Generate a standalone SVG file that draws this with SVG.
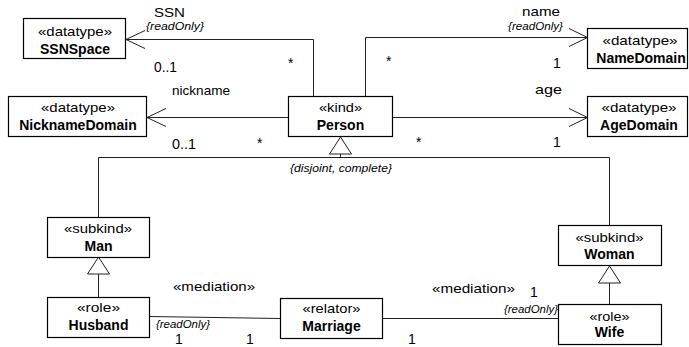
<svg xmlns="http://www.w3.org/2000/svg" width="689" height="347" viewBox="0 0 689 347">
  <style>
    .box{fill:#fff;stroke:#000;stroke-width:1.2}
    .st{font-family:"Liberation Sans",Arial,sans-serif;font-size:13px;text-anchor:middle;fill:#000}
    .nm{font-family:"Liberation Sans",Arial,sans-serif;font-size:14px;font-weight:bold;text-anchor:middle;fill:#000}
    .lbl{font-family:"Liberation Sans",Arial,sans-serif;font-size:13px;fill:#000}
    .mul{font-family:"Liberation Sans",Arial,sans-serif;font-size:14px;fill:#000}
    .ro{font-family:"Liberation Sans",Arial,sans-serif;font-size:10px;font-style:italic;fill:#000}
    .ln{fill:none;stroke:#222;stroke-width:1}
    .gen{fill:#fff;stroke:#222;stroke-width:1}
  </style>
  <rect width="689" height="347" fill="#fff"/>

  <!-- connectors -->
  <g id="connectors">
    <!-- Person -> SSNSpace (SSN) -->
    <polyline class="ln" points="313.5,96.5 313.5,39.5 126,39.5"/>
    <polyline class="ln" points="145,30.5 126,39.5 145,48.5"/>
    <!-- Person -> NicknameDomain -->
    <line class="ln" x1="288.5" y1="117.5" x2="147" y2="117.5"/>
    <polyline class="ln" points="166,108.5 147,117.5 166,126.5"/>
    <!-- Person -> NameDomain -->
    <polyline class="ln" points="365.5,96.5 365.5,37.5 587.5,37.5"/>
    <polyline class="ln" points="569,28.5 587.5,37.5 569,46.5"/>
    <!-- Person -> AgeDomain -->
    <line class="ln" x1="392.5" y1="117.5" x2="587.5" y2="117.5"/>
    <polyline class="ln" points="569,108.5 587.5,117.5 569,126.5"/>
    <!-- generalization set Person <- Man, Woman -->
    <polyline class="ln" points="98.5,217 98.5,157.5 609.5,157.5 609.5,225"/>
    <line class="ln" x1="340.5" y1="154" x2="340.5" y2="157.5"/>
    <polygon class="gen" points="340.5,137 329.5,154 351.5,154"/>
    <!-- Man <- Husband -->
    <line class="ln" x1="98.5" y1="274" x2="98.5" y2="297"/>
    <polygon class="gen" points="98.5,257 87.5,274 109.5,274"/>
    <!-- Woman <- Wife -->
    <line class="ln" x1="609.5" y1="283" x2="609.5" y2="304"/>
    <polygon class="gen" points="609.5,266 598.5,283 620.5,283"/>
    <!-- mediations -->
    <line class="ln" x1="150" y1="316.5" x2="280" y2="318.5"/>
    <line class="ln" x1="383" y1="318.5" x2="558" y2="318.5"/>

    <!-- association labels -->
    <text class="lbl" x="154" y="17" textLength="31" lengthAdjust="spacingAndGlyphs">SSN</text>
    <text class="ro" x="146" y="30" textLength="58" lengthAdjust="spacingAndGlyphs">{readOnly}</text>
    <text class="mul" x="154" y="72" textLength="23" lengthAdjust="spacingAndGlyphs">0..1</text>
    <text class="mul" x="288" y="67.5">*</text>

    <text class="lbl" x="172" y="95" textLength="58" lengthAdjust="spacingAndGlyphs">nickname</text>
    <text class="mul" x="172" y="149" textLength="24" lengthAdjust="spacingAndGlyphs">0..1</text>
    <text class="mul" x="257" y="147.5">*</text>

    <text class="lbl" x="522" y="16" textLength="38" lengthAdjust="spacingAndGlyphs">name</text>
    <text class="ro" x="508" y="30" textLength="55" lengthAdjust="spacingAndGlyphs">{readOnly}</text>
    <text class="mul" x="386" y="66">*</text>
    <text class="mul" x="553" y="68">1</text>

    <text class="lbl" x="535" y="94" textLength="27" lengthAdjust="spacingAndGlyphs">age</text>
    <text class="mul" x="416" y="146.5">*</text>
    <text class="mul" x="553" y="146.5">1</text>

    <text class="ro" x="341" y="172" text-anchor="middle" textLength="102" lengthAdjust="spacingAndGlyphs">{disjoint, complete}</text>

    <text class="lbl" x="173" y="291" textLength="82" lengthAdjust="spacingAndGlyphs">«mediation»</text>
    <text class="ro" x="156" y="328" textLength="54" lengthAdjust="spacingAndGlyphs">{readOnly}</text>
    <text class="mul" x="175" y="343.5">1</text>
    <text class="mul" x="246" y="343.5">1</text>

    <text class="lbl" x="432" y="293" textLength="83" lengthAdjust="spacingAndGlyphs">«mediation»</text>
    <text class="mul" x="530" y="296.5">1</text>
    <text class="ro" x="504" y="313" textLength="54" lengthAdjust="spacingAndGlyphs">{readOnly}</text>
    <text class="mul" x="408" y="343.5">1</text>
  </g>

  <!-- classes -->
  <g id="SSNSpace">
    <rect class="box" x="23.5" y="18.5" width="102" height="40"/>
    <text class="st" x="75" y="36" textLength="74" lengthAdjust="spacingAndGlyphs">«datatype»</text>
    <text class="nm" x="75" y="53.5">SSNSpace</text>
  </g>
  <g id="NicknameDomain">
    <rect class="box" x="8.5" y="96.5" width="138" height="40"/>
    <text class="st" x="78" y="112" textLength="74" lengthAdjust="spacingAndGlyphs">«datatype»</text>
    <text class="nm" x="78" y="130">NicknameDomain</text>
  </g>
  <g id="Person">
    <rect class="box" x="288.5" y="96.5" width="104" height="40"/>
    <text class="st" x="340.5" y="112" textLength="43" lengthAdjust="spacingAndGlyphs">«kind»</text>
    <text class="nm" x="340.5" y="130">Person</text>
  </g>
  <g id="NameDomain">
    <rect class="box" x="587.5" y="28.5" width="100" height="40"/>
    <text class="st" x="640" y="45" textLength="75" lengthAdjust="spacingAndGlyphs">«datatype»</text>
    <text class="nm" x="641" y="63">NameDomain</text>
  </g>
  <g id="AgeDomain">
    <rect class="box" x="587.5" y="96.5" width="100" height="40"/>
    <text class="st" x="639" y="112" textLength="75" lengthAdjust="spacingAndGlyphs">«datatype»</text>
    <text class="nm" x="639" y="130">AgeDomain</text>
  </g>
  <g id="Man">
    <rect class="box" x="47.5" y="217.5" width="102" height="40"/>
    <text class="st" x="98" y="233" textLength="68" lengthAdjust="spacingAndGlyphs">«subkind»</text>
    <text class="nm" x="98.5" y="251">Man</text>
  </g>
  <g id="Husband">
    <rect class="box" x="47.5" y="297.5" width="102" height="40"/>
    <text class="st" x="98.5" y="312" textLength="43" lengthAdjust="spacingAndGlyphs">«role»</text>
    <text class="nm" x="98.5" y="330">Husband</text>
  </g>
  <g id="Marriage">
    <rect class="box" x="280.5" y="298.5" width="102" height="40"/>
    <text class="st" x="331.5" y="313" textLength="58" lengthAdjust="spacingAndGlyphs">«relator»</text>
    <text class="nm" x="331.5" y="331">Marriage</text>
  </g>
  <g id="Woman">
    <rect class="box" x="558.5" y="225.5" width="103" height="40"/>
    <text class="st" x="609.5" y="241.5" textLength="68" lengthAdjust="spacingAndGlyphs">«subkind»</text>
    <text class="nm" x="609.5" y="259">Woman</text>
  </g>
  <g id="Wife">
    <rect class="box" x="558.5" y="304.5" width="103" height="40"/>
    <text class="st" x="609.5" y="321" textLength="40" lengthAdjust="spacingAndGlyphs">«role»</text>
    <text class="nm" x="609.5" y="337">Wife</text>
  </g>
</svg>
